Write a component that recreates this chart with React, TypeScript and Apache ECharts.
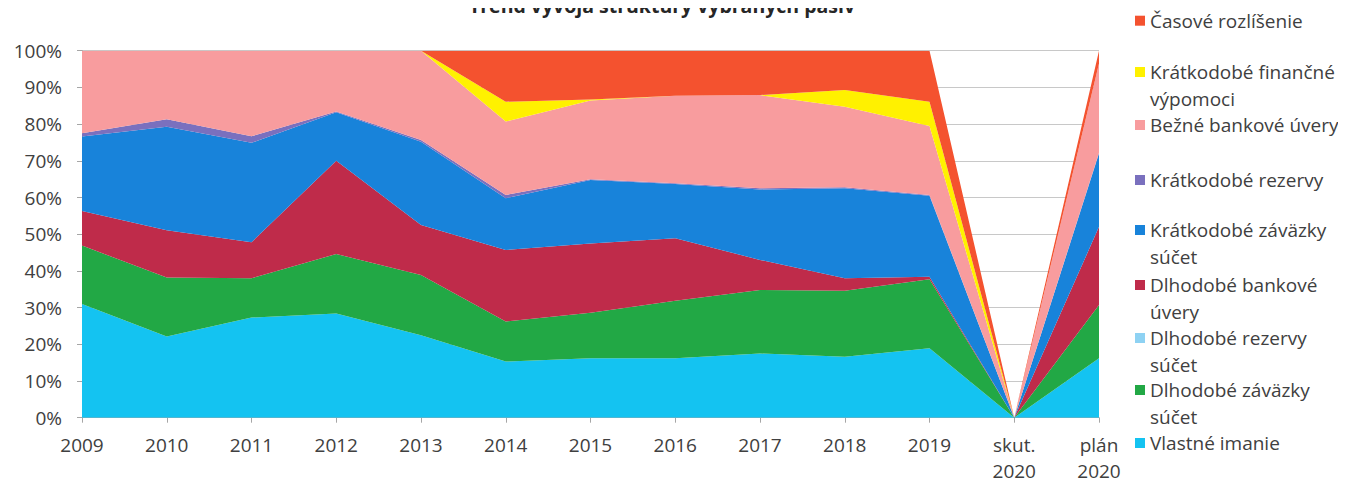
import React, { useEffect, useRef } from 'react';
import * as echarts from 'echarts';

const categories = ['2009', '2010', '2011', '2012', '2013', '2014', '2015', '2016', '2017', '2018', '2019', 'skut.\n2020', 'plán\n2020'];

const vlastneImanie = [31.0, 22.1, 27.3, 28.4, 22.5, 15.3, 16.2, 16.2, 17.5, 16.6, 18.9, 0, 16.2];
const dlhodobeZavazky = [15.9, 16.1, 10.7, 16.2, 16.4, 10.9, 12.4, 15.7, 17.3, 18.0, 18.8, 0, 14.5];
const dlhodobeRezervy = [0, 0, 0, 0, 0, 0, 0, 0, 0, 0, 0, 0, 0];
const dlhodobeBankove = [9.4, 12.9, 9.8, 25.4, 13.6, 19.5, 18.9, 17.0, 8.2, 3.4, 0.7, 0, 21.3];
const kratkodobeZavazky = [20.3, 28.2, 27.1, 13.2, 22.7, 14.1, 17.3, 14.8, 19.2, 24.5, 22.1, 0, 20.0];
const kratkodobeRezervy = [0.9, 2.0, 1.8, 0.2, 0.5, 0.9, 0.2, 0.2, 0.3, 0.3, 0.2, 0, 0.2];
const bezneBankove = [22.5, 18.7, 23.3, 16.6, 24.3, 20.0, 21.4, 23.8, 25.4, 21.9, 18.8, 0, 24.3];
const kratkodobeVypomoci = [0, 0, 0, 0, 0, 5.4, 0.3, 0, 0, 4.6, 6.6, 0, 0];
const casoveRozlisenie = [0, 0, 0, 0, 0, 13.9, 13.3, 12.3, 12.1, 10.7, 13.9, 0, 3.5];

const seriesNames = [
  'Vlastné imanie',
  'Dlhodobé záväzky súčet',
  'Dlhodobé rezervy súčet',
  'Dlhodobé bankové úvery',
  'Krátkodobé záväzky súčet',
  'Krátkodobé rezervy',
  'Bežné bankové úvery',
  'Krátkodobé finančné výpomoci',
  'Časové rozlíšenie',
];
const seriesData = [
  vlastneImanie,
  dlhodobeZavazky,
  dlhodobeRezervy,
  dlhodobeBankove,
  kratkodobeZavazky,
  kratkodobeRezervy,
  bezneBankove,
  kratkodobeVypomoci,
  casoveRozlisenie,
];
const seriesColors = ['#14C3F1', '#22A845', '#8ED2F3', '#BF2B4A', '#1883DA', '#7A70BE', '#F89C9E', '#FFF100', '#F4522F'];

// legend label lines (wrapped like in the original)
const legendLines: Record<string, string[]> = {
  'Časové rozlíšenie': ['Časové rozlíšenie'],
  'Krátkodobé finančné výpomoci': ['Krátkodobé finančné', 'výpomoci'],
  'Bežné bankové úvery': ['Bežné bankové úvery'],
  'Krátkodobé rezervy': ['Krátkodobé rezervy'],
  'Krátkodobé záväzky súčet': ['Krátkodobé záväzky', 'súčet'],
  'Dlhodobé bankové úvery': ['Dlhodobé bankové', 'úvery'],
  'Dlhodobé rezervy súčet': ['Dlhodobé rezervy', 'súčet'],
  'Dlhodobé záväzky súčet': ['Dlhodobé záväzky', 'súčet'],
  'Vlastné imanie': ['Vlastné imanie'],
};
const legendOrder = [
  'Časové rozlíšenie',
  'Krátkodobé finančné výpomoci',
  'Bežné bankové úvery',
  'Krátkodobé rezervy',
  'Krátkodobé záväzky súčet',
  'Dlhodobé bankové úvery',
  'Dlhodobé rezervy súčet',
  'Dlhodobé záväzky súčet',
  'Vlastné imanie',
];
const legendFirstLineY = [12.7, 64, 117, 172, 222, 277, 330, 382, 435];

const FONT = "'Open Sans', 'Noto Sans', sans-serif";
const LH = 27;

export default function App() {
  const ref = useRef<HTMLDivElement>(null);
  useEffect(() => {
    if (!ref.current) return;
    const chart = echarts.init(ref.current, null, { renderer: 'svg' });

    const legends = legendOrder.map((name, i) => {
      const lines = legendLines[name];
      const two = lines.length > 1;
      const text = two ? '\u00a0\n' + lines.join('\n') : lines[0];
      const top = two ? legendFirstLineY[i] - LH * 1.5 : legendFirstLineY[i] - LH / 2;
      return {
        data: [name],
        orient: 'vertical',
        left: 1127,
        top,
        padding: 0,
        icon: 'rect',
        itemWidth: 10,
        itemHeight: 10,
        selectedMode: false,
        formatter: () => text,
        textStyle: { fontFamily: FONT, fontSize: 19, color: '#404040', lineHeight: LH },
      };
    });

    chart.setOption({
      animation: false,
      title: {
        text: 'Trend vývoja štruktúry vybraných pasív',
        left: 654,
        top: -12,
        padding: 0,
        textAlign: 'center',
        textStyle: { fontFamily: FONT, fontSize: 19.5, fontWeight: 'bold', color: '#262626', lineHeight: 19.5 },
      },
      legend: legends,
      grid: { left: 74, top: 42.7, width: 1017, height: 367, containLabel: false, outerBoundsMode: 'none' },
      xAxis: {
        type: 'category',
        data: categories,
        boundaryGap: false,
        axisLine: { lineStyle: { color: '#a6a6a6', width: 1 } },
        axisTick: { show: true, length: 5, lineStyle: { color: '#a6a6a6' } },
        axisLabel: { fontFamily: FONT, fontSize: 19, color: '#404040', margin: 14, lineHeight: 26, interval: 0 },
        splitLine: { show: false },
      },
      yAxis: {
        type: 'value',
        min: 0,
        max: 100,
        interval: 10,
        axisLine: { show: true, lineStyle: { color: '#a6a6a6', width: 1 } },
        axisTick: { show: true, length: 5, lineStyle: { color: '#a6a6a6' } },
        axisLabel: { fontFamily: FONT, fontSize: 19, color: '#404040', margin: 20, formatter: '{value}%' },
        splitLine: { show: true, lineStyle: { color: '#c8c8c8', width: 1 } },
      },
      series: seriesNames.map((name, i) => ({
        name,
        type: 'line',
        stack: 'total',
        data: seriesData[i],
        symbol: 'none',
        showSymbol: false,
        color: seriesColors[i],
        lineStyle: { width: 0 },
        areaStyle: { color: seriesColors[i], opacity: 1 },
        emphasis: { disabled: true },
      })),
    });
    return () => chart.dispose();
  }, []);
  return <div ref={ref} style={{ width: 1330, height: 476 }} />;
}
